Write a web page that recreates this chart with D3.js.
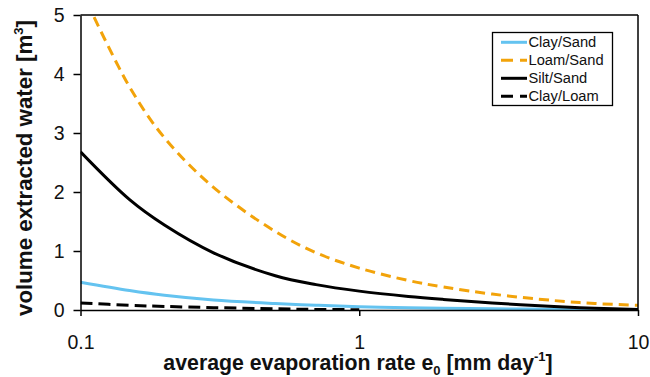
<!DOCTYPE html>
<html><head><meta charset="utf-8">
<script src="https://cdn.jsdelivr.net/npm/d3@7"></script>
<style>body{margin:0;background:#fff}svg{display:block}text{font-family:"Liberation Sans",Arial,sans-serif}</style>
</head><body><svg id="c" width="650" height="377"></svg>
<script>
const xValues = [0.1, 0.15, 0.2, 0.3, 0.5, 0.7, 1, 1.5, 2, 3, 5, 7, 10];
const claySand = [0.47, 0.33, 0.25, 0.17, 0.11, 0.08, 0.055, 0.04, 0.03, 0.02, 0.012, 0.008, 0.005];
const loamSand = [5.45, 3.78, 2.92, 2.08, 1.33, 0.97, 0.71, 0.50, 0.39, 0.27, 0.16, 0.11, 0.08];
const siltSand = [2.68, 1.87, 1.44, 0.97, 0.58, 0.43, 0.32, 0.23, 0.18, 0.12, 0.06, 0.03, 0.01];
const clayLoamX = [0.1, 0.15, 0.2, 0.3, 0.5, 0.7, 1];
const clayLoam = [0.12, 0.08, 0.06, 0.04, 0.02, 0.01, 0.005];
const xTicks = [0.1, 1, 10];
const yTicks = [0, 1, 2, 3, 4, 5];
const seriesNames = ["Clay/Sand", "Loam/Sand", "Silt/Sand", "Clay/Loam"];

const svg = d3.select("#c");
const L = 80.5, R = 638, T = 15, B = 310;
const x = d3.scaleLog().domain([0.1, 10]).range([L, R]);
const y = d3.scaleLinear().domain([0, 5]).range([B, T]);

const series = [
  {name: seriesNames[0], xs: xValues, ys: claySand, color: "#64C3F0", dash: null},
  {name: seriesNames[1], xs: xValues, ys: loamSand, color: "#F2A30A", dash: "10,6"},
  {name: seriesNames[2], xs: xValues, ys: siltSand, color: "#000", dash: null},
  {name: seriesNames[3], xs: clayLoamX, ys: clayLoam, color: "#000", dash: "12,6"}
];

svg.append("defs").append("clipPath").attr("id","clip")
  .append("rect").attr("x", L).attr("y", T).attr("width", R - L).attr("height", B - T);

const line = d3.line().x(d => x(d[0])).y(d => y(d[1])).curve(d3.curveCatmullRom.alpha(0.5));
const g = svg.append("g").attr("clip-path", "url(#clip)");
series.forEach(s => {
  g.append("path").datum(s.xs.map((v, i) => [v, s.ys[i]]))
    .attr("d", line).attr("fill", "none").attr("stroke", s.color)
    .attr("stroke-width", 3).attr("stroke-dasharray", s.dash);
});

// frame
svg.append("line").attr("x1", L).attr("x2", R).attr("y1", T).attr("y2", T).attr("stroke", "#000").attr("stroke-width", 1.5);
svg.append("line").attr("x1", R).attr("x2", R).attr("y1", T).attr("y2", B).attr("stroke", "#000").attr("stroke-width", 1.5);

const xAxis = svg.append("g").attr("transform", `translate(0,${B})`)
  .call(d3.axisBottom(x).tickValues(xTicks).tickFormat(d3.format("")).tickSize(6).tickSizeOuter(0));
const yAxis = svg.append("g").attr("transform", `translate(${L},0)`)
  .call(d3.axisLeft(y).tickValues(yTicks).tickFormat(d3.format("d")).tickSize(7).tickSizeOuter(0));
[xAxis, yAxis].forEach(a => {
  a.select(".domain").attr("stroke", "#000").attr("stroke-width", 1.5);
  a.selectAll(".tick line").attr("stroke", "#000").attr("stroke-width", 1.5);
  a.selectAll("text").attr("font-size", 19.5).attr("fill", "#111")
    .style("font-family", '"Liberation Sans",Arial,sans-serif');
});
xAxis.selectAll("text").attr("y", 25).attr("dy", "0.71em");
yAxis.selectAll("text").attr("x", -16);

// axis titles
const xt = svg.append("text").attr("x", 358).attr("y", 370).attr("text-anchor", "middle")
  .attr("font-size", 21.3).attr("font-weight", "bold").attr("fill", "#111");
xt.append("tspan").text("average evaporation rate e");
xt.append("tspan").attr("font-size", 13).attr("dy", 5).text("0");
xt.append("tspan").attr("dy", -5).text(" [mm day");
xt.append("tspan").attr("font-size", 13).attr("dy", -9).text("-1");
xt.append("tspan").attr("dy", 9).text("]");

const yt = svg.append("text").attr("transform", "translate(32,168) rotate(-90)").attr("text-anchor", "middle")
  .attr("font-size", 22.3).attr("font-weight", "bold").attr("fill", "#111");
yt.append("tspan").text("volume extracted water [m");
yt.append("tspan").attr("font-size", 13).attr("dy", -9).text("3");
yt.append("tspan").attr("dy", 9).text("]");

// legend
const lg = svg.append("g");
lg.append("rect").attr("x", 492.5).attr("y", 32.5).attr("width", 120).attr("height", 73)
  .attr("fill", "#fff").attr("stroke", "#000").attr("stroke-width", 1.3);
series.forEach((s, i) => {
  const yy = 42.3 + i * 18;
  lg.append("line").attr("x1", 501).attr("x2", 527).attr("y1", yy).attr("y2", yy)
    .attr("stroke", s.color).attr("stroke-width", 3).attr("stroke-dasharray", s.dash ? "12,7" : null);
  lg.append("text").attr("x", 528.5).attr("y", yy).attr("dy", "0.35em")
    .attr("font-size", 14.7).attr("fill", "#111").text(s.name);
});
</script></body></html>
